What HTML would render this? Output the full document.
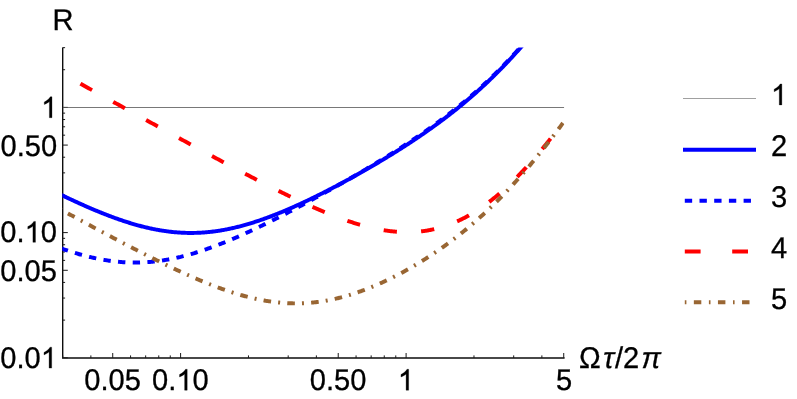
<!DOCTYPE html>
<html><head><meta charset="utf-8"><title>plot</title>
<style>
html,body{margin:0;padding:0;background:#fff;}
body{width:797px;height:399px;overflow:hidden;position:relative;}
svg{position:absolute;left:0;top:0;display:block;will-change:transform;}
text{font-family:"Liberation Sans",sans-serif;fill:#000;stroke:#000;stroke-width:0.3px;text-rendering:geometricPrecision;}
.it{font-style:italic;}
</style></head><body>
<svg width="797" height="399" viewBox="0 0 797 399">
<rect width="797" height="399" fill="#fff"/>
<defs><clipPath id="cp"><rect x="62.3" y="47.4" width="502.0" height="310.20000000000005"/></clipPath></defs>
<path d="M62.7 47.4 V358 H564.6" fill="none" stroke="#0d0d0d" stroke-width="1.4" stroke-linejoin="miter"/>
<path d="M112.72 358 V353 M180.60 358 V353 M338.22 358 V353 M406.10 358 V353 M563.72 358 V353 M62.69 358 V355.4 M90.86 358 V355.4 M130.57 358 V355.4 M145.67 358 V355.4 M158.75 358 V355.4 M170.28 358 V355.4 M248.48 358 V355.4 M288.19 358 V355.4 M316.36 358 V355.4 M356.07 358 V355.4 M371.17 358 V355.4 M384.25 358 V355.4 M395.78 358 V355.4 M473.98 358 V355.4 M513.69 358 V355.4 M541.86 358 V355.4 M62.7 357.80 H67.8 M62.7 270.29 H67.8 M62.7 232.60 H67.8 M62.7 145.09 H67.8 M62.7 107.40 H67.8 M62.7 320.11 H65.1 M62.7 298.06 H65.1 M62.7 282.42 H65.1 M62.7 260.38 H65.1 M62.7 251.99 H65.1 M62.7 244.73 H65.1 M62.7 238.33 H65.1 M62.7 194.91 H65.1 M62.7 172.86 H65.1 M62.7 157.22 H65.1 M62.7 135.18 H65.1 M62.7 126.79 H65.1 M62.7 119.53 H65.1 M62.7 113.13 H65.1 M62.7 69.71 H65.1 M62.7 47.66 H65.1" fill="none" stroke="#1a1a1a" stroke-width="1"/>
<g clip-path="url(#cp)" fill="none">
<path d="M62.9 107.5 H564.1999999999999" stroke="#555" stroke-width="0.8"/>
<path d="M40.94 184.83 L41.81 185.27 L42.68 185.71 L43.56 186.15 L44.43 186.59 L45.30 187.03 L46.18 187.47 L47.05 187.90 L47.92 188.34 L48.79 188.77 L49.67 189.21 L50.54 189.64 L51.41 190.07 L52.29 190.50 L53.16 190.94 L54.03 191.36 L54.90 191.79 L55.78 192.22 L56.65 192.65 L57.52 193.07 L58.40 193.50 L59.27 193.92 L60.14 194.34 L61.01 194.77 L61.89 195.19 L62.76 195.61 L63.63 196.02 L64.51 196.44 L65.38 196.86 L66.25 197.27 L67.13 197.69 L68.00 198.10 L68.87 198.51 L69.74 198.92 L70.62 199.33 L71.49 199.74 L72.36 200.14 L73.24 200.55 L74.11 200.95 L74.98 201.35 L75.85 201.76 L76.73 202.16 L77.60 202.55 L78.47 202.95 L79.35 203.35 L80.22 203.74 L81.09 204.13 L81.96 204.52 L82.84 204.91 L83.71 205.30 L84.58 205.69 L85.46 206.07 L86.33 206.46 L87.20 206.84 L88.08 207.22 L88.95 207.60 L89.82 207.97 L90.69 208.35 L91.57 208.72 L92.44 209.09 L93.31 209.46 L94.19 209.83 L95.06 210.20 L95.93 210.56 L96.80 210.92 L97.68 211.28 L98.55 211.64 L99.42 212.00 L100.30 212.35 L101.17 212.70 L102.04 213.05 L102.92 213.40 L103.79 213.75 L104.66 214.09 L105.53 214.43 L106.41 214.77 L107.28 215.11 L108.15 215.45 L109.03 215.78 L109.90 216.11 L110.77 216.44 L111.64 216.76 L112.52 217.09 L113.39 217.41 L114.26 217.73 L115.14 218.04 L116.01 218.36 L116.88 218.67 L117.75 218.98 L118.63 219.28 L119.50 219.59 L120.37 219.89 L121.25 220.19 L122.12 220.48 L122.99 220.77 L123.87 221.06 L124.74 221.35 L125.61 221.64 L126.48 221.92 L127.36 222.20 L128.23 222.47 L129.10 222.74 L129.98 223.01 L130.85 223.28 L131.72 223.54 L132.59 223.80 L133.47 224.06 L134.34 224.32 L135.21 224.57 L136.09 224.82 L136.96 225.06 L137.83 225.30 L138.70 225.54 L139.58 225.78 L140.45 226.01 L141.32 226.24 L142.20 226.46 L143.07 226.68 L143.94 226.90 L144.82 227.12 L145.69 227.33 L146.56 227.54 L147.43 227.74 L148.31 227.94 L149.18 228.14 L150.05 228.33 L150.93 228.52 L151.80 228.71 L152.67 228.89 L153.54 229.07 L154.42 229.24 L155.29 229.41 L156.16 229.58 L157.04 229.75 L157.91 229.91 L158.78 230.06 L159.65 230.21 L160.53 230.36 L161.40 230.50 L162.27 230.65 L163.15 230.78 L164.02 230.91 L164.89 231.04 L165.77 231.17 L166.64 231.29 L167.51 231.40 L168.38 231.51 L169.26 231.62 L170.13 231.72 L171.00 231.82 L171.88 231.92 L172.75 232.01 L173.62 232.10 L174.49 232.18 L175.37 232.26 L176.24 232.33 L177.11 232.40 L177.99 232.47 L178.86 232.53 L179.73 232.59 L180.61 232.64 L181.48 232.69 L182.35 232.73 L183.22 232.77 L184.10 232.81 L184.97 232.84 L185.84 232.87 L186.72 232.89 L187.59 232.91 L188.46 232.93 L189.33 232.93 L190.21 232.94 L191.08 232.94 L191.95 232.94 L192.83 232.93 L193.70 232.92 L194.57 232.90 L195.44 232.88 L196.32 232.86 L197.19 232.83 L198.06 232.79 L198.94 232.76 L199.81 232.71 L200.68 232.67 L201.56 232.62 L202.43 232.56 L203.30 232.50 L204.17 232.44 L205.05 232.37 L205.92 232.30 L206.79 232.22 L207.67 232.14 L208.54 232.06 L209.41 231.97 L210.28 231.88 L211.16 231.78 L212.03 231.68 L212.90 231.57 L213.78 231.46 L214.65 231.35 L215.52 231.23 L216.39 231.11 L217.27 230.98 L218.14 230.85 L219.01 230.71 L219.89 230.58 L220.76 230.43 L221.63 230.29 L222.51 230.14 L223.38 229.98 L224.25 229.82 L225.12 229.66 L226.00 229.49 L226.87 229.32 L227.74 229.15 L228.62 228.97 L229.49 228.79 L230.36 228.61 L231.23 228.42 L232.11 228.22 L232.98 228.03 L233.85 227.83 L234.73 227.62 L235.60 227.42 L236.47 227.20 L237.35 226.99 L238.22 226.77 L239.09 226.55 L239.96 226.33 L240.84 226.10 L241.71 225.86 L242.58 225.63 L243.46 225.39 L244.33 225.15 L245.20 224.90 L246.07 224.65 L246.95 224.40 L247.82 224.15 L248.69 223.89 L249.57 223.63 L250.44 223.36 L251.31 223.09 L252.18 222.82 L253.06 222.55 L253.93 222.27 L254.80 221.99 L255.68 221.71 L256.55 221.42 L257.42 221.13 L258.30 220.84 L259.17 220.55 L260.04 220.25 L260.91 219.95 L261.79 219.64 L262.66 219.34 L263.53 219.03 L264.41 218.72 L265.28 218.40 L266.15 218.09 L267.02 217.77 L267.90 217.45 L268.77 217.12 L269.64 216.79 L270.52 216.46 L271.39 216.13 L272.26 215.80 L273.13 215.46 L274.01 215.12 L274.88 214.78 L275.75 214.43 L276.63 214.09 L277.50 213.74 L278.37 213.39 L279.25 213.03 L280.12 212.68 L280.99 212.32 L281.86 211.96 L282.74 211.60 L283.61 211.23 L284.48 210.87 L285.36 210.50 L286.23 210.13 L287.10 209.75 L287.97 209.38 L288.85 209.00 L289.72 208.62 L290.59 208.24 L291.47 207.86 L292.34 207.47 L293.21 207.09 L294.08 206.70 L294.96 206.31 L295.83 205.92 L296.70 205.52 L297.58 205.13 L298.45 204.73 L299.32 204.33 L300.20 203.93 L301.07 203.53 L301.94 203.12 L302.81 202.72 L303.69 202.31 L304.56 201.90 L305.43 201.49 L306.31 201.08 L307.18 200.66 L308.05 200.25 L308.92 199.83 L309.80 199.41 L310.67 198.99 L311.54 198.57 L312.42 198.14 L313.29 197.72 L314.16 197.29 L315.04 196.86 L315.91 196.43 L316.78 196.00 L317.65 195.57 L318.53 195.14 L319.40 194.70 L320.27 194.26 L321.15 193.83 L322.02 193.39 L322.89 192.95 L323.76 192.50 L324.64 192.06 L325.51 191.62 L326.38 191.17 L327.26 190.72 L328.13 190.27 L329.00 189.82 L329.87 189.37 L330.75 188.92 L331.62 188.47 L332.49 188.01 L333.37 187.56 L334.24 187.10 L335.11 186.64 L335.99 186.18 L336.86 185.72 L337.73 185.26 L338.60 184.79 L339.48 184.33 L340.35 183.86 L341.22 183.39 L342.10 182.93 L342.97 182.46 L343.84 181.99 L344.71 181.51 L345.59 181.04 L346.46 180.57 L347.33 180.09 L348.21 179.61 L349.08 179.14 L349.95 178.66 L350.82 178.18 L351.70 177.70 L352.57 177.21 L353.44 176.73 L354.32 176.25 L355.19 175.76 L356.06 175.27 L356.94 174.78 L357.81 174.29 L358.68 173.80 L359.55 173.31 L360.43 172.82 L361.30 172.33 L362.17 171.83 L363.05 171.33 L363.92 170.84 L364.79 170.34 L365.66 169.84 L366.54 169.34 L367.41 168.83 L368.28 168.33 L369.16 167.83 L370.03 167.32 L370.90 166.81 L371.77 166.30 L372.65 165.79 L373.52 165.28 L374.39 164.77 L375.27 164.26 L376.14 163.74 L377.01 163.23 L377.89 162.71 L378.76 162.19 L379.63 161.67 L380.50 161.15 L381.38 160.63 L382.25 160.10 L383.12 159.58 L384.00 159.05 L384.87 158.53 L385.74 158.00 L386.61 157.47 L387.49 156.93 L388.36 156.40 L389.23 155.87 L390.11 155.33 L390.98 154.79 L391.85 154.26 L392.73 153.72 L393.60 153.17 L394.47 152.63 L395.34 152.09 L396.22 151.54 L397.09 150.99 L397.96 150.44 L398.84 149.89 L399.71 149.34 L400.58 148.79 L401.45 148.23 L402.33 147.67 L403.20 147.12 L404.07 146.56 L404.95 145.99 L405.82 145.43 L406.69 144.86 L407.56 144.30 L408.44 143.73 L409.31 143.16 L410.18 142.59 L411.06 142.01 L411.93 141.44 L412.80 140.86 L413.68 140.28 L414.55 139.70 L415.42 139.11 L416.29 138.53 L417.17 137.94 L418.04 137.35 L418.91 136.76 L419.79 136.17 L420.66 135.58 L421.53 134.98 L422.40 134.38 L423.28 133.78 L424.15 133.17 L425.02 132.57 L425.90 131.96 L426.77 131.35 L427.64 130.74 L428.51 130.13 L429.39 129.51 L430.26 128.89 L431.13 128.27 L432.01 127.65 L432.88 127.02 L433.75 126.39 L434.63 125.76 L435.50 125.13 L436.37 124.50 L437.24 123.86 L438.12 123.22 L438.99 122.58 L439.86 121.93 L440.74 121.28 L441.61 120.63 L442.48 119.98 L443.35 119.32 L444.23 118.66 L445.10 118.00 L445.97 117.34 L446.85 116.67 L447.72 116.00 L448.59 115.33 L449.46 114.66 L450.34 113.98 L451.21 113.30 L452.08 112.61 L452.96 111.93 L453.83 111.24 L454.70 110.54 L455.58 109.85 L456.45 109.15 L457.32 108.45 L458.19 107.74 L459.07 107.03 L459.94 106.32 L460.81 105.61 L461.69 104.89 L462.56 104.17 L463.43 103.44 L464.30 102.72 L465.18 101.98 L466.05 101.25 L466.92 100.51 L467.80 99.77 L468.67 99.02 L469.54 98.28 L470.42 97.52 L471.29 96.77 L472.16 96.01 L473.03 95.25 L473.91 94.48 L474.78 93.71 L475.65 92.94 L476.53 92.16 L477.40 91.38 L478.27 90.59 L479.14 89.80 L480.02 89.01 L480.89 88.22 L481.76 87.42 L482.64 86.61 L483.51 85.80 L484.38 84.99 L485.25 84.18 L486.13 83.36 L487.00 82.53 L487.87 81.71 L488.75 80.87 L489.62 80.04 L490.49 79.20 L491.37 78.35 L492.24 77.51 L493.11 76.65 L493.98 75.80 L494.86 74.94 L495.73 74.07 L496.60 73.20 L497.48 72.33 L498.35 71.46 L499.22 70.57 L500.09 69.69 L500.97 68.80 L501.84 67.91 L502.71 67.01 L503.59 66.10 L504.46 65.20 L505.33 64.29 L506.20 63.37 L507.08 62.45 L507.95 61.53 L508.82 60.60 L509.70 59.67 L510.57 58.73 L511.44 57.79 L512.32 56.84 L513.19 55.89 L514.06 54.94 L514.93 53.98 L515.81 53.02 L516.68 52.05 L517.55 51.08 L518.43 50.10 L519.30 49.12 L520.17 48.14 L521.04 47.15 L521.92 46.16 L522.79 45.16 L523.66 44.16 L524.54 43.15 L525.41 42.14 L526.28 41.13 L527.16 40.11 L528.03 39.08 L528.90 38.06 L529.77 37.02 L530.65 35.99 L531.52 34.95 L532.39 33.90 L533.27 32.85 L534.14 31.80 L535.01 30.74 L535.88 29.68 L536.76 28.62 L537.63 27.55 L538.50 26.47 L539.38 25.40 L540.25 24.31 L541.12 23.23 L541.99 22.14 L542.87 21.04 L543.74 19.94 L544.61 18.84 L545.49 17.74 L546.36 16.62 L547.23 15.51 L548.11 14.39 L548.98 13.27 L549.85 12.14 L550.72 11.01 L551.60 9.88 L552.47 8.74 L553.34 7.60 L554.22 6.46 L555.09 5.31 L555.96 4.15 L556.83 3.00 L557.71 1.84 L558.58 0.68 L559.45 -0.49 L560.33 -1.66 L561.20 -2.84 L562.07 -4.02 L562.94 -5.20 L563.82 -6.38" stroke="#0000ff" stroke-width="3.95"/>
<path d="M40.94 240.61 L41.81 240.97 L42.68 241.33 L43.56 241.68 L44.43 242.04 L45.30 242.39 L46.18 242.74 L47.05 243.09 L47.92 243.43 L48.79 243.78 L49.67 244.12 L50.54 244.46 L51.41 244.79 L52.29 245.13 L53.16 245.46 L54.03 245.79 L54.90 246.12 L55.78 246.44 L56.65 246.77 L57.52 247.09 L58.40 247.41 L59.27 247.72 L60.14 248.03 L61.01 248.35 L61.89 248.65 L62.76 248.96 L63.63 249.26 L64.51 249.56 L65.38 249.86 L66.25 250.15 L67.13 250.45 L68.00 250.74 L68.87 251.02 L69.74 251.31 L70.62 251.59 L71.49 251.86 L72.36 252.14 L73.24 252.41 L74.11 252.68 L74.98 252.95 L75.85 253.21 L76.73 253.47 L77.60 253.73 L78.47 253.98 L79.35 254.23 L80.22 254.48 L81.09 254.72 L81.96 254.97 L82.84 255.20 L83.71 255.44 L84.58 255.67 L85.46 255.90 L86.33 256.12 L87.20 256.34 L88.08 256.56 L88.95 256.77 L89.82 256.98 L90.69 257.19 L91.57 257.39 L92.44 257.59 L93.31 257.79 L94.19 257.98 L95.06 258.17 L95.93 258.36 L96.80 258.54 L97.68 258.72 L98.55 258.89 L99.42 259.06 L100.30 259.23 L101.17 259.39 L102.04 259.55 L102.92 259.71 L103.79 259.86 L104.66 260.01 L105.53 260.15 L106.41 260.29 L107.28 260.42 L108.15 260.56 L109.03 260.68 L109.90 260.81 L110.77 260.93 L111.64 261.04 L112.52 261.15 L113.39 261.26 L114.26 261.36 L115.14 261.46 L116.01 261.56 L116.88 261.65 L117.75 261.73 L118.63 261.82 L119.50 261.89 L120.37 261.97 L121.25 262.04 L122.12 262.10 L122.99 262.16 L123.87 262.22 L124.74 262.27 L125.61 262.32 L126.48 262.36 L127.36 262.40 L128.23 262.44 L129.10 262.47 L129.98 262.50 L130.85 262.52 L131.72 262.54 L132.59 262.55 L133.47 262.56 L134.34 262.57 L135.21 262.57 L136.09 262.56 L136.96 262.56 L137.83 262.54 L138.70 262.53 L139.58 262.51 L140.45 262.48 L141.32 262.45 L142.20 262.42 L143.07 262.38 L143.94 262.34 L144.82 262.29 L145.69 262.24 L146.56 262.19 L147.43 262.13 L148.31 262.06 L149.18 261.99 L150.05 261.92 L150.93 261.85 L151.80 261.76 L152.67 261.68 L153.54 261.59 L154.42 261.50 L155.29 261.40 L156.16 261.30 L157.04 261.19 L157.91 261.08 L158.78 260.97 L159.65 260.85 L160.53 260.73 L161.40 260.60 L162.27 260.47 L163.15 260.34 L164.02 260.20 L164.89 260.06 L165.77 259.91 L166.64 259.76 L167.51 259.61 L168.38 259.45 L169.26 259.29 L170.13 259.12 L171.00 258.95 L171.88 258.78 L172.75 258.60 L173.62 258.42 L174.49 258.24 L175.37 258.05 L176.24 257.86 L177.11 257.66 L177.99 257.46 L178.86 257.26 L179.73 257.05 L180.61 256.85 L181.48 256.63 L182.35 256.41 L183.22 256.19 L184.10 255.97 L184.97 255.74 L185.84 255.51 L186.72 255.28 L187.59 255.04 L188.46 254.80 L189.33 254.56 L190.21 254.31 L191.08 254.06 L191.95 253.81 L192.83 253.55 L193.70 253.29 L194.57 253.03 L195.44 252.76 L196.32 252.49 L197.19 252.22 L198.06 251.95 L198.94 251.67 L199.81 251.39 L200.68 251.10 L201.56 250.82 L202.43 250.53 L203.30 250.24 L204.17 249.94 L205.05 249.64 L205.92 249.34 L206.79 249.04 L207.67 248.73 L208.54 248.42 L209.41 248.11 L210.28 247.80 L211.16 247.48 L212.03 247.17 L212.90 246.84 L213.78 246.52 L214.65 246.19 L215.52 245.87 L216.39 245.53 L217.27 245.20 L218.14 244.87 L219.01 244.53 L219.89 244.19 L220.76 243.85 L221.63 243.50 L222.51 243.15 L223.38 242.81 L224.25 242.45 L225.12 242.10 L226.00 241.75 L226.87 241.39 L227.74 241.03 L228.62 240.67 L229.49 240.30 L230.36 239.94 L231.23 239.57 L232.11 239.20 L232.98 238.83 L233.85 238.46 L234.73 238.08 L235.60 237.71 L236.47 237.33 L237.35 236.95 L238.22 236.57 L239.09 236.18 L239.96 235.80 L240.84 235.41 L241.71 235.02 L242.58 234.63 L243.46 234.24 L244.33 233.85 L245.20 233.45 L246.07 233.05 L246.95 232.66 L247.82 232.26 L248.69 231.85 L249.57 231.45 L250.44 231.05 L251.31 230.64 L252.18 230.23 L253.06 229.83 L253.93 229.42 L254.80 229.01 L255.68 228.59 L256.55 228.18 L257.42 227.76 L258.30 227.35 L259.17 226.93 L260.04 226.51 L260.91 226.09 L261.79 225.67 L262.66 225.25 L263.53 224.82 L264.41 224.40 L265.28 223.97 L266.15 223.54 L267.02 223.11 L267.90 222.68 L268.77 222.25 L269.64 221.82 L270.52 221.39 L271.39 220.96 L272.26 220.52 L273.13 220.08 L274.01 219.65 L274.88 219.21 L275.75 218.77 L276.63 218.33 L277.50 217.89 L278.37 217.45 L279.25 217.00 L280.12 216.56 L280.99 216.11 L281.86 215.67 L282.74 215.22 L283.61 214.77 L284.48 214.32 L285.36 213.87 L286.23 213.42 L287.10 212.97 L287.97 212.52 L288.85 212.07 L289.72 211.61 L290.59 211.16 L291.47 210.70 L292.34 210.25 L293.21 209.79 L294.08 209.33 L294.96 208.87 L295.83 208.41 L296.70 207.95 L297.58 207.49 L298.45 207.03 L299.32 206.57 L300.20 206.10 L301.07 205.64 L301.94 205.18 L302.81 204.71 L303.69 204.24 L304.56 203.78 L305.43 203.31 L306.31 202.84 L307.18 202.37 L308.05 201.90 L308.92 201.43 L309.80 200.96 L310.67 200.49 L311.54 200.01 L312.42 199.54 L313.29 199.07 L314.16 198.59 L315.04 198.12 L315.91 197.64 L316.78 197.16 L317.65 196.69 L318.53 196.21 L319.40 195.73 L320.27 195.25 L321.15 194.77 L322.02 194.29 L322.89 193.81 L323.76 193.32 L324.64 192.84 L325.51 192.36 L326.38 191.87 L327.26 191.39 L328.13 190.90 L329.00 190.42 L329.87 189.93 L330.75 189.44 L331.62 188.95 L332.49 188.46 L333.37 187.97 L334.24 187.48 L335.11 186.99 L335.99 186.50 L336.86 186.01 L337.73 185.52 L338.60 185.02 L339.48 184.53 L340.35 184.03 L341.22 183.54 L342.10 183.04 L342.97 182.54 L343.84 182.05 L344.71 181.55 L345.59 181.05 L346.46 180.55 L347.33 180.05 L348.21 179.55 L349.08 179.04 L349.95 178.54 L350.82 178.04 L351.70 177.53 L352.57 177.03 L353.44 176.52 L354.32 176.02 L355.19 175.51 L356.06 175.00 L356.94 174.49 L357.81 173.98 L358.68 173.47 L359.55 172.96 L360.43 172.45 L361.30 171.93 L362.17 171.42 L363.05 170.91 L363.92 170.39 L364.79 169.87 L365.66 169.36 L366.54 168.84 L367.41 168.32 L368.28 167.80 L369.16 167.28 L370.03 166.76 L370.90 166.24 L371.77 165.71 L372.65 165.19 L373.52 164.66 L374.39 164.14 L375.27 163.61 L376.14 163.08 L377.01 162.55 L377.89 162.02 L378.76 161.49 L379.63 160.96 L380.50 160.43 L381.38 159.89 L382.25 159.36 L383.12 158.82 L384.00 158.29 L384.87 157.75 L385.74 157.21 L386.61 156.67 L387.49 156.13 L388.36 155.58 L389.23 155.04 L390.11 154.49 L390.98 153.95 L391.85 153.40 L392.73 152.85 L393.60 152.30 L394.47 151.75 L395.34 151.20 L396.22 150.64 L397.09 150.09 L397.96 149.53 L398.84 148.97 L399.71 148.41 L400.58 147.85 L401.45 147.29 L402.33 146.73 L403.20 146.16 L404.07 145.59 L404.95 145.03 L405.82 144.46 L406.69 143.89 L407.56 143.31 L408.44 142.74 L409.31 142.16 L410.18 141.59 L411.06 141.01 L411.93 140.43 L412.80 139.85 L413.68 139.26 L414.55 138.68 L415.42 138.09 L416.29 137.50 L417.17 136.91 L418.04 136.32 L418.91 135.72 L419.79 135.13 L420.66 134.53 L421.53 133.93 L422.40 133.33 L423.28 132.72 L424.15 132.12 L425.02 131.51 L425.90 130.90 L426.77 130.29 L427.64 129.67 L428.51 129.06 L429.39 128.44 L430.26 127.82 L431.13 127.20 L432.01 126.57 L432.88 125.95 L433.75 125.32 L434.63 124.69 L435.50 124.05 L436.37 123.42 L437.24 122.78 L438.12 122.14 L438.99 121.50 L439.86 120.85 L440.74 120.20 L441.61 119.55 L442.48 118.90 L443.35 118.24 L444.23 117.59 L445.10 116.93 L445.97 116.26 L446.85 115.60 L447.72 114.93 L448.59 114.26 L449.46 113.58 L450.34 112.91 L451.21 112.23 L452.08 111.54 L452.96 110.86 L453.83 110.17 L454.70 109.48 L455.58 108.79 L456.45 108.09 L457.32 107.39 L458.19 106.69 L459.07 105.98 L459.94 105.27 L460.81 104.56 L461.69 103.84 L462.56 103.12 L463.43 102.40 L464.30 101.68 L465.18 100.95 L466.05 100.22 L466.92 99.48 L467.80 98.74 L468.67 98.00 L469.54 97.26 L470.42 96.51 L471.29 95.76 L472.16 95.00 L473.03 94.24 L473.91 93.48 L474.78 92.71 L475.65 91.94 L476.53 91.17 L477.40 90.39 L478.27 89.61 L479.14 88.83 L480.02 88.04 L480.89 87.25 L481.76 86.45 L482.64 85.65 L483.51 84.85 L484.38 84.04 L485.25 83.23 L486.13 82.41 L487.00 81.60 L487.87 80.77 L488.75 79.95 L489.62 79.12 L490.49 78.28 L491.37 77.44 L492.24 76.60 L493.11 75.75 L493.98 74.90 L494.86 74.05 L495.73 73.19 L496.60 72.32 L497.48 71.46 L498.35 70.59 L499.22 69.71 L500.09 68.83 L500.97 67.95 L501.84 67.06 L502.71 66.17 L503.59 65.27 L504.46 64.37 L505.33 63.46 L506.20 62.55 L507.08 61.64 L507.95 60.72 L508.82 59.80 L509.70 58.87 L510.57 57.94 L511.44 57.01 L512.32 56.07 L513.19 55.12 L514.06 54.18 L514.93 53.22 L515.81 52.27 L516.68 51.31 L517.55 50.34 L518.43 49.37 L519.30 48.40 L520.17 47.42 L521.04 46.44 L521.92 45.45 L522.79 44.46 L523.66 43.46 L524.54 42.46 L525.41 41.46 L526.28 40.45 L527.16 39.44 L528.03 38.42 L528.90 37.40 L529.77 36.37 L530.65 35.34 L531.52 34.31 L532.39 33.27 L533.27 32.23 L534.14 31.18 L535.01 30.13 L535.88 29.08 L536.76 28.02 L537.63 26.95 L538.50 25.88 L539.38 24.81 L540.25 23.74 L541.12 22.66 L541.99 21.57 L542.87 20.48 L543.74 19.39 L544.61 18.30 L545.49 17.19 L546.36 16.09 L547.23 14.98 L548.11 13.87 L548.98 12.75 L549.85 11.63 L550.72 10.51 L551.60 9.38 L552.47 8.25 L553.34 7.11 L554.22 5.97 L555.09 4.83 L555.96 3.68 L556.83 2.53 L557.71 1.38 L558.58 0.22 L559.45 -0.94 L560.33 -2.11 L561.20 -3.27 L562.07 -4.45 L562.94 -5.62 L563.82 -6.80" stroke="#0000ff" stroke-width="3.95" stroke-dasharray="7.35 7.35" stroke-dashoffset="-6.74"/>
<path d="M40.94 61.79 L41.81 62.27 L42.68 62.76 L43.56 63.24 L44.43 63.73 L45.30 64.21 L46.18 64.70 L47.05 65.18 L47.92 65.66 L48.79 66.15 L49.67 66.63 L50.54 67.12 L51.41 67.60 L52.29 68.08 L53.16 68.57 L54.03 69.05 L54.90 69.54 L55.78 70.02 L56.65 70.51 L57.52 70.99 L58.40 71.47 L59.27 71.96 L60.14 72.44 L61.01 72.93 L61.89 73.41 L62.76 73.89 L63.63 74.38 L64.51 74.86 L65.38 75.35 L66.25 75.83 L67.13 76.31 L68.00 76.80 L68.87 77.28 L69.74 77.77 L70.62 78.25 L71.49 78.73 L72.36 79.22 L73.24 79.70 L74.11 80.18 L74.98 80.67 L75.85 81.15 L76.73 81.64 L77.60 82.12 L78.47 82.60 L79.35 83.09 L80.22 83.57 L81.09 84.06 L81.96 84.54 L82.84 85.02 L83.71 85.51 L84.58 85.99 L85.46 86.47 L86.33 86.96 L87.20 87.44 L88.08 87.92 L88.95 88.41 L89.82 88.89 L90.69 89.37 L91.57 89.86 L92.44 90.34 L93.31 90.83 L94.19 91.31 L95.06 91.79 L95.93 92.28 L96.80 92.76 L97.68 93.24 L98.55 93.73 L99.42 94.21 L100.30 94.69 L101.17 95.18 L102.04 95.66 L102.92 96.14 L103.79 96.63 L104.66 97.11 L105.53 97.59 L106.41 98.07 L107.28 98.56 L108.15 99.04 L109.03 99.52 L109.90 100.01 L110.77 100.49 L111.64 100.97 L112.52 101.46 L113.39 101.94 L114.26 102.42 L115.14 102.90 L116.01 103.39 L116.88 103.87 L117.75 104.35 L118.63 104.84 L119.50 105.32 L120.37 105.80 L121.25 106.28 L122.12 106.77 L122.99 107.25 L123.87 107.73 L124.74 108.21 L125.61 108.70 L126.48 109.18 L127.36 109.66 L128.23 110.14 L129.10 110.62 L129.98 111.11 L130.85 111.59 L131.72 112.07 L132.59 112.55 L133.47 113.03 L134.34 113.52 L135.21 114.00 L136.09 114.48 L136.96 114.96 L137.83 115.44 L138.70 115.93 L139.58 116.41 L140.45 116.89 L141.32 117.37 L142.20 117.85 L143.07 118.33 L143.94 118.81 L144.82 119.30 L145.69 119.78 L146.56 120.26 L147.43 120.74 L148.31 121.22 L149.18 121.70 L150.05 122.18 L150.93 122.66 L151.80 123.14 L152.67 123.62 L153.54 124.10 L154.42 124.58 L155.29 125.07 L156.16 125.55 L157.04 126.03 L157.91 126.51 L158.78 126.99 L159.65 127.47 L160.53 127.95 L161.40 128.43 L162.27 128.91 L163.15 129.39 L164.02 129.87 L164.89 130.35 L165.77 130.82 L166.64 131.30 L167.51 131.78 L168.38 132.26 L169.26 132.74 L170.13 133.22 L171.00 133.70 L171.88 134.18 L172.75 134.66 L173.62 135.14 L174.49 135.61 L175.37 136.09 L176.24 136.57 L177.11 137.05 L177.99 137.53 L178.86 138.00 L179.73 138.48 L180.61 138.96 L181.48 139.44 L182.35 139.91 L183.22 140.39 L184.10 140.87 L184.97 141.35 L185.84 141.82 L186.72 142.30 L187.59 142.78 L188.46 143.25 L189.33 143.73 L190.21 144.20 L191.08 144.68 L191.95 145.16 L192.83 145.63 L193.70 146.11 L194.57 146.58 L195.44 147.06 L196.32 147.53 L197.19 148.01 L198.06 148.48 L198.94 148.96 L199.81 149.43 L200.68 149.91 L201.56 150.38 L202.43 150.85 L203.30 151.33 L204.17 151.80 L205.05 152.27 L205.92 152.75 L206.79 153.22 L207.67 153.69 L208.54 154.16 L209.41 154.64 L210.28 155.11 L211.16 155.58 L212.03 156.05 L212.90 156.52 L213.78 156.99 L214.65 157.46 L215.52 157.93 L216.39 158.40 L217.27 158.87 L218.14 159.34 L219.01 159.81 L219.89 160.28 L220.76 160.75 L221.63 161.22 L222.51 161.69 L223.38 162.16 L224.25 162.62 L225.12 163.09 L226.00 163.56 L226.87 164.02 L227.74 164.49 L228.62 164.96 L229.49 165.42 L230.36 165.89 L231.23 166.35 L232.11 166.82 L232.98 167.28 L233.85 167.75 L234.73 168.21 L235.60 168.67 L236.47 169.14 L237.35 169.60 L238.22 170.06 L239.09 170.52 L239.96 170.98 L240.84 171.44 L241.71 171.91 L242.58 172.37 L243.46 172.82 L244.33 173.28 L245.20 173.74 L246.07 174.20 L246.95 174.66 L247.82 175.12 L248.69 175.57 L249.57 176.03 L250.44 176.49 L251.31 176.94 L252.18 177.40 L253.06 177.85 L253.93 178.30 L254.80 178.76 L255.68 179.21 L256.55 179.66 L257.42 180.11 L258.30 180.56 L259.17 181.02 L260.04 181.46 L260.91 181.91 L261.79 182.36 L262.66 182.81 L263.53 183.26 L264.41 183.70 L265.28 184.15 L266.15 184.60 L267.02 185.04 L267.90 185.48 L268.77 185.93 L269.64 186.37 L270.52 186.81 L271.39 187.25 L272.26 187.69 L273.13 188.13 L274.01 188.57 L274.88 189.01 L275.75 189.45 L276.63 189.88 L277.50 190.32 L278.37 190.75 L279.25 191.19 L280.12 191.62 L280.99 192.05 L281.86 192.48 L282.74 192.91 L283.61 193.34 L284.48 193.77 L285.36 194.20 L286.23 194.62 L287.10 195.05 L287.97 195.47 L288.85 195.90 L289.72 196.32 L290.59 196.74 L291.47 197.16 L292.34 197.58 L293.21 197.99 L294.08 198.41 L294.96 198.83 L295.83 199.24 L296.70 199.65 L297.58 200.07 L298.45 200.48 L299.32 200.89 L300.20 201.29 L301.07 201.70 L301.94 202.11 L302.81 202.51 L303.69 202.91 L304.56 203.31 L305.43 203.71 L306.31 204.11 L307.18 204.51 L308.05 204.90 L308.92 205.30 L309.80 205.69 L310.67 206.08 L311.54 206.47 L312.42 206.86 L313.29 207.24 L314.16 207.63 L315.04 208.01 L315.91 208.39 L316.78 208.77 L317.65 209.15 L318.53 209.53 L319.40 209.90 L320.27 210.27 L321.15 210.64 L322.02 211.01 L322.89 211.38 L323.76 211.74 L324.64 212.11 L325.51 212.47 L326.38 212.82 L327.26 213.18 L328.13 213.54 L329.00 213.89 L329.87 214.24 L330.75 214.59 L331.62 214.93 L332.49 215.28 L333.37 215.62 L334.24 215.96 L335.11 216.29 L335.99 216.63 L336.86 216.96 L337.73 217.29 L338.60 217.61 L339.48 217.94 L340.35 218.26 L341.22 218.58 L342.10 218.90 L342.97 219.21 L343.84 219.52 L344.71 219.83 L345.59 220.14 L346.46 220.44 L347.33 220.74 L348.21 221.04 L349.08 221.33 L349.95 221.62 L350.82 221.91 L351.70 222.20 L352.57 222.48 L353.44 222.76 L354.32 223.03 L355.19 223.31 L356.06 223.58 L356.94 223.84 L357.81 224.10 L358.68 224.36 L359.55 224.62 L360.43 224.87 L361.30 225.12 L362.17 225.37 L363.05 225.61 L363.92 225.85 L364.79 226.08 L365.66 226.31 L366.54 226.54 L367.41 226.76 L368.28 226.98 L369.16 227.20 L370.03 227.41 L370.90 227.62 L371.77 227.82 L372.65 228.02 L373.52 228.22 L374.39 228.41 L375.27 228.60 L376.14 228.78 L377.01 228.96 L377.89 229.13 L378.76 229.30 L379.63 229.47 L380.50 229.63 L381.38 229.79 L382.25 229.94 L383.12 230.09 L384.00 230.23 L384.87 230.37 L385.74 230.50 L386.61 230.63 L387.49 230.75 L388.36 230.87 L389.23 230.99 L390.11 231.10 L390.98 231.20 L391.85 231.30 L392.73 231.39 L393.60 231.48 L394.47 231.56 L395.34 231.64 L396.22 231.72 L397.09 231.78 L397.96 231.84 L398.84 231.90 L399.71 231.95 L400.58 232.00 L401.45 232.04 L402.33 232.07 L403.20 232.10 L404.07 232.12 L404.95 232.14 L405.82 232.15 L406.69 232.16 L407.56 232.16 L408.44 232.15 L409.31 232.14 L410.18 232.12 L411.06 232.10 L411.93 232.07 L412.80 232.03 L413.68 231.99 L414.55 231.94 L415.42 231.89 L416.29 231.82 L417.17 231.76 L418.04 231.68 L418.91 231.60 L419.79 231.52 L420.66 231.42 L421.53 231.32 L422.40 231.22 L423.28 231.10 L424.15 230.98 L425.02 230.86 L425.90 230.73 L426.77 230.59 L427.64 230.44 L428.51 230.29 L429.39 230.13 L430.26 229.96 L431.13 229.79 L432.01 229.61 L432.88 229.42 L433.75 229.23 L434.63 229.02 L435.50 228.82 L436.37 228.60 L437.24 228.38 L438.12 228.15 L438.99 227.91 L439.86 227.67 L440.74 227.42 L441.61 227.16 L442.48 226.90 L443.35 226.62 L444.23 226.34 L445.10 226.06 L445.97 225.76 L446.85 225.46 L447.72 225.15 L448.59 224.84 L449.46 224.51 L450.34 224.18 L451.21 223.85 L452.08 223.50 L452.96 223.15 L453.83 222.79 L454.70 222.42 L455.58 222.04 L456.45 221.66 L457.32 221.27 L458.19 220.87 L459.07 220.47 L459.94 220.06 L460.81 219.64 L461.69 219.21 L462.56 218.77 L463.43 218.33 L464.30 217.88 L465.18 217.42 L466.05 216.96 L466.92 216.49 L467.80 216.01 L468.67 215.52 L469.54 215.02 L470.42 214.52 L471.29 214.01 L472.16 213.49 L473.03 212.97 L473.91 212.44 L474.78 211.90 L475.65 211.35 L476.53 210.79 L477.40 210.23 L478.27 209.66 L479.14 209.08 L480.02 208.50 L480.89 207.91 L481.76 207.31 L482.64 206.70 L483.51 206.08 L484.38 205.46 L485.25 204.83 L486.13 204.19 L487.00 203.55 L487.87 202.90 L488.75 202.24 L489.62 201.57 L490.49 200.90 L491.37 200.22 L492.24 199.53 L493.11 198.83 L493.98 198.13 L494.86 197.42 L495.73 196.71 L496.60 195.98 L497.48 195.25 L498.35 194.51 L499.22 193.77 L500.09 193.01 L500.97 192.25 L501.84 191.49 L502.71 190.71 L503.59 189.93 L504.46 189.15 L505.33 188.35 L506.20 187.55 L507.08 186.74 L507.95 185.93 L508.82 185.11 L509.70 184.28 L510.57 183.44 L511.44 182.60 L512.32 181.75 L513.19 180.90 L514.06 180.04 L514.93 179.17 L515.81 178.29 L516.68 177.41 L517.55 176.52 L518.43 175.63 L519.30 174.73 L520.17 173.82 L521.04 172.91 L521.92 171.99 L522.79 171.06 L523.66 170.13 L524.54 169.20 L525.41 168.25 L526.28 167.30 L527.16 166.35 L528.03 165.38 L528.90 164.42 L529.77 163.44 L530.65 162.46 L531.52 161.48 L532.39 160.49 L533.27 159.49 L534.14 158.49 L535.01 157.48 L535.88 156.47 L536.76 155.45 L537.63 154.42 L538.50 153.39 L539.38 152.36 L540.25 151.32 L541.12 150.27 L541.99 149.22 L542.87 148.16 L543.74 147.10 L544.61 146.03 L545.49 144.96 L546.36 143.88 L547.23 142.80 L548.11 141.71 L548.98 140.62 L549.85 139.53 L550.72 138.42 L551.60 137.32 L552.47 136.21 L553.34 135.09 L554.22 133.97 L555.09 132.85 L555.96 131.72 L556.83 130.58 L557.71 129.44 L558.58 128.30 L559.45 127.15 L560.33 126.00 L561.20 124.85 L562.07 123.69 L562.94 122.52 L563.82 121.35" stroke="#ff0000" stroke-width="3.95" stroke-dasharray="13.3 24.25" stroke-dashoffset="-7.57"/>
<path d="M40.94 198.66 L41.81 199.14 L42.68 199.62 L43.56 200.10 L44.43 200.58 L45.30 201.06 L46.18 201.54 L47.05 202.02 L47.92 202.50 L48.79 202.97 L49.67 203.45 L50.54 203.93 L51.41 204.41 L52.29 204.89 L53.16 205.37 L54.03 205.84 L54.90 206.32 L55.78 206.80 L56.65 207.28 L57.52 207.76 L58.40 208.23 L59.27 208.71 L60.14 209.19 L61.01 209.66 L61.89 210.14 L62.76 210.62 L63.63 211.09 L64.51 211.57 L65.38 212.05 L66.25 212.52 L67.13 213.00 L68.00 213.48 L68.87 213.95 L69.74 214.43 L70.62 214.90 L71.49 215.38 L72.36 215.85 L73.24 216.33 L74.11 216.80 L74.98 217.28 L75.85 217.75 L76.73 218.22 L77.60 218.70 L78.47 219.17 L79.35 219.65 L80.22 220.12 L81.09 220.59 L81.96 221.07 L82.84 221.54 L83.71 222.01 L84.58 222.48 L85.46 222.96 L86.33 223.43 L87.20 223.90 L88.08 224.37 L88.95 224.84 L89.82 225.31 L90.69 225.78 L91.57 226.25 L92.44 226.72 L93.31 227.19 L94.19 227.66 L95.06 228.13 L95.93 228.60 L96.80 229.07 L97.68 229.54 L98.55 230.01 L99.42 230.48 L100.30 230.95 L101.17 231.41 L102.04 231.88 L102.92 232.35 L103.79 232.81 L104.66 233.28 L105.53 233.75 L106.41 234.21 L107.28 234.68 L108.15 235.14 L109.03 235.61 L109.90 236.07 L110.77 236.53 L111.64 237.00 L112.52 237.46 L113.39 237.92 L114.26 238.39 L115.14 238.85 L116.01 239.31 L116.88 239.77 L117.75 240.23 L118.63 240.69 L119.50 241.15 L120.37 241.61 L121.25 242.07 L122.12 242.53 L122.99 242.99 L123.87 243.44 L124.74 243.90 L125.61 244.36 L126.48 244.82 L127.36 245.27 L128.23 245.73 L129.10 246.18 L129.98 246.64 L130.85 247.09 L131.72 247.54 L132.59 247.99 L133.47 248.45 L134.34 248.90 L135.21 249.35 L136.09 249.80 L136.96 250.25 L137.83 250.70 L138.70 251.15 L139.58 251.59 L140.45 252.04 L141.32 252.49 L142.20 252.93 L143.07 253.38 L143.94 253.82 L144.82 254.27 L145.69 254.71 L146.56 255.15 L147.43 255.60 L148.31 256.04 L149.18 256.48 L150.05 256.92 L150.93 257.35 L151.80 257.79 L152.67 258.23 L153.54 258.67 L154.42 259.10 L155.29 259.54 L156.16 259.97 L157.04 260.40 L157.91 260.83 L158.78 261.27 L159.65 261.70 L160.53 262.13 L161.40 262.55 L162.27 262.98 L163.15 263.41 L164.02 263.83 L164.89 264.26 L165.77 264.68 L166.64 265.10 L167.51 265.52 L168.38 265.94 L169.26 266.36 L170.13 266.78 L171.00 267.20 L171.88 267.62 L172.75 268.03 L173.62 268.44 L174.49 268.86 L175.37 269.27 L176.24 269.68 L177.11 270.09 L177.99 270.49 L178.86 270.90 L179.73 271.30 L180.61 271.71 L181.48 272.11 L182.35 272.51 L183.22 272.91 L184.10 273.31 L184.97 273.70 L185.84 274.10 L186.72 274.49 L187.59 274.89 L188.46 275.28 L189.33 275.67 L190.21 276.05 L191.08 276.44 L191.95 276.82 L192.83 277.21 L193.70 277.59 L194.57 277.97 L195.44 278.35 L196.32 278.72 L197.19 279.10 L198.06 279.47 L198.94 279.84 L199.81 280.21 L200.68 280.58 L201.56 280.94 L202.43 281.31 L203.30 281.67 L204.17 282.03 L205.05 282.38 L205.92 282.74 L206.79 283.09 L207.67 283.45 L208.54 283.80 L209.41 284.14 L210.28 284.49 L211.16 284.83 L212.03 285.17 L212.90 285.51 L213.78 285.85 L214.65 286.18 L215.52 286.51 L216.39 286.84 L217.27 287.17 L218.14 287.50 L219.01 287.82 L219.89 288.14 L220.76 288.46 L221.63 288.77 L222.51 289.09 L223.38 289.40 L224.25 289.70 L225.12 290.01 L226.00 290.31 L226.87 290.61 L227.74 290.91 L228.62 291.20 L229.49 291.49 L230.36 291.78 L231.23 292.07 L232.11 292.35 L232.98 292.63 L233.85 292.91 L234.73 293.18 L235.60 293.45 L236.47 293.72 L237.35 293.99 L238.22 294.25 L239.09 294.51 L239.96 294.76 L240.84 295.02 L241.71 295.27 L242.58 295.51 L243.46 295.76 L244.33 296.00 L245.20 296.23 L246.07 296.46 L246.95 296.69 L247.82 296.92 L248.69 297.14 L249.57 297.36 L250.44 297.58 L251.31 297.79 L252.18 298.00 L253.06 298.21 L253.93 298.41 L254.80 298.61 L255.68 298.80 L256.55 298.99 L257.42 299.18 L258.30 299.36 L259.17 299.54 L260.04 299.72 L260.91 299.89 L261.79 300.06 L262.66 300.22 L263.53 300.38 L264.41 300.54 L265.28 300.69 L266.15 300.84 L267.02 300.98 L267.90 301.12 L268.77 301.26 L269.64 301.39 L270.52 301.52 L271.39 301.65 L272.26 301.77 L273.13 301.88 L274.01 301.99 L274.88 302.10 L275.75 302.20 L276.63 302.30 L277.50 302.40 L278.37 302.49 L279.25 302.57 L280.12 302.66 L280.99 302.73 L281.86 302.81 L282.74 302.88 L283.61 302.94 L284.48 303.00 L285.36 303.06 L286.23 303.11 L287.10 303.15 L287.97 303.20 L288.85 303.23 L289.72 303.27 L290.59 303.30 L291.47 303.32 L292.34 303.34 L293.21 303.36 L294.08 303.37 L294.96 303.38 L295.83 303.38 L296.70 303.38 L297.58 303.37 L298.45 303.36 L299.32 303.34 L300.20 303.32 L301.07 303.30 L301.94 303.27 L302.81 303.23 L303.69 303.19 L304.56 303.15 L305.43 303.10 L306.31 303.05 L307.18 302.99 L308.05 302.93 L308.92 302.87 L309.80 302.80 L310.67 302.72 L311.54 302.64 L312.42 302.56 L313.29 302.47 L314.16 302.38 L315.04 302.28 L315.91 302.18 L316.78 302.07 L317.65 301.96 L318.53 301.85 L319.40 301.73 L320.27 301.60 L321.15 301.47 L322.02 301.34 L322.89 301.20 L323.76 301.06 L324.64 300.92 L325.51 300.77 L326.38 300.61 L327.26 300.45 L328.13 300.29 L329.00 300.12 L329.87 299.95 L330.75 299.77 L331.62 299.59 L332.49 299.41 L333.37 299.22 L334.24 299.02 L335.11 298.83 L335.99 298.63 L336.86 298.42 L337.73 298.21 L338.60 298.00 L339.48 297.78 L340.35 297.56 L341.22 297.33 L342.10 297.10 L342.97 296.86 L343.84 296.63 L344.71 296.38 L345.59 296.14 L346.46 295.89 L347.33 295.63 L348.21 295.37 L349.08 295.11 L349.95 294.85 L350.82 294.58 L351.70 294.30 L352.57 294.02 L353.44 293.74 L354.32 293.46 L355.19 293.17 L356.06 292.88 L356.94 292.58 L357.81 292.28 L358.68 291.97 L359.55 291.67 L360.43 291.36 L361.30 291.04 L362.17 290.72 L363.05 290.40 L363.92 290.07 L364.79 289.75 L365.66 289.41 L366.54 289.08 L367.41 288.74 L368.28 288.39 L369.16 288.05 L370.03 287.70 L370.90 287.34 L371.77 286.98 L372.65 286.62 L373.52 286.26 L374.39 285.89 L375.27 285.52 L376.14 285.15 L377.01 284.77 L377.89 284.39 L378.76 284.01 L379.63 283.62 L380.50 283.23 L381.38 282.83 L382.25 282.44 L383.12 282.03 L384.00 281.63 L384.87 281.22 L385.74 280.81 L386.61 280.40 L387.49 279.98 L388.36 279.56 L389.23 279.14 L390.11 278.71 L390.98 278.29 L391.85 277.85 L392.73 277.42 L393.60 276.98 L394.47 276.54 L395.34 276.09 L396.22 275.64 L397.09 275.19 L397.96 274.74 L398.84 274.28 L399.71 273.82 L400.58 273.36 L401.45 272.89 L402.33 272.42 L403.20 271.95 L404.07 271.47 L404.95 270.99 L405.82 270.51 L406.69 270.02 L407.56 269.53 L408.44 269.04 L409.31 268.55 L410.18 268.05 L411.06 267.55 L411.93 267.04 L412.80 266.54 L413.68 266.03 L414.55 265.51 L415.42 265.00 L416.29 264.48 L417.17 263.96 L418.04 263.43 L418.91 262.90 L419.79 262.37 L420.66 261.83 L421.53 261.29 L422.40 260.75 L423.28 260.21 L424.15 259.66 L425.02 259.11 L425.90 258.56 L426.77 258.00 L427.64 257.44 L428.51 256.87 L429.39 256.31 L430.26 255.74 L431.13 255.16 L432.01 254.59 L432.88 254.01 L433.75 253.42 L434.63 252.83 L435.50 252.24 L436.37 251.65 L437.24 251.05 L438.12 250.45 L438.99 249.85 L439.86 249.24 L440.74 248.63 L441.61 248.02 L442.48 247.40 L443.35 246.78 L444.23 246.16 L445.10 245.53 L445.97 244.90 L446.85 244.26 L447.72 243.63 L448.59 242.98 L449.46 242.34 L450.34 241.69 L451.21 241.04 L452.08 240.38 L452.96 239.72 L453.83 239.06 L454.70 238.39 L455.58 237.72 L456.45 237.04 L457.32 236.37 L458.19 235.68 L459.07 235.00 L459.94 234.31 L460.81 233.61 L461.69 232.92 L462.56 232.21 L463.43 231.51 L464.30 230.80 L465.18 230.09 L466.05 229.37 L466.92 228.65 L467.80 227.92 L468.67 227.20 L469.54 226.46 L470.42 225.73 L471.29 224.99 L472.16 224.24 L473.03 223.49 L473.91 222.74 L474.78 221.98 L475.65 221.22 L476.53 220.45 L477.40 219.68 L478.27 218.91 L479.14 218.13 L480.02 217.35 L480.89 216.56 L481.76 215.77 L482.64 214.98 L483.51 214.18 L484.38 213.37 L485.25 212.57 L486.13 211.75 L487.00 210.94 L487.87 210.12 L488.75 209.29 L489.62 208.46 L490.49 207.63 L491.37 206.79 L492.24 205.94 L493.11 205.10 L493.98 204.24 L494.86 203.39 L495.73 202.53 L496.60 201.66 L497.48 200.79 L498.35 199.92 L499.22 199.04 L500.09 198.16 L500.97 197.27 L501.84 196.38 L502.71 195.48 L503.59 194.58 L504.46 193.67 L505.33 192.76 L506.20 191.85 L507.08 190.93 L507.95 190.00 L508.82 189.07 L509.70 188.14 L510.57 187.20 L511.44 186.26 L512.32 185.32 L513.19 184.36 L514.06 183.41 L514.93 182.45 L515.81 181.48 L516.68 180.51 L517.55 179.54 L518.43 178.56 L519.30 177.58 L520.17 176.59 L521.04 175.60 L521.92 174.60 L522.79 173.60 L523.66 172.60 L524.54 171.59 L525.41 170.58 L526.28 169.56 L527.16 168.53 L528.03 167.51 L528.90 166.48 L529.77 165.44 L530.65 164.40 L531.52 163.35 L532.39 162.30 L533.27 161.25 L534.14 160.19 L535.01 159.13 L535.88 158.07 L536.76 157.00 L537.63 155.92 L538.50 154.84 L539.38 153.76 L540.25 152.67 L541.12 151.58 L541.99 150.48 L542.87 149.38 L543.74 148.28 L544.61 147.17 L545.49 146.06 L546.36 144.95 L547.23 143.83 L548.11 142.70 L548.98 141.57 L549.85 140.44 L550.72 139.31 L551.60 138.17 L552.47 137.03 L553.34 135.88 L554.22 134.73 L555.09 133.57 L555.96 132.41 L556.83 131.25 L557.71 130.09 L558.58 128.92 L559.45 127.74 L560.33 126.57 L561.20 125.39 L562.07 124.20 L562.94 123.02 L563.82 121.83" stroke="#996633" stroke-width="3.95" stroke-dasharray="7.6 7.1 2.0 7.18" stroke-dashoffset="-6.86"/>
</g>
<text transform="translate(41.12,117.70) scale(1,1.0300)" font-size="29.1"><tspan style="fill:none;stroke:none">1</tspan></text>
<path d="M763 0H583V1147Q518 1085 412.5 1023T223 930V1104Q374 1175 487 1276T647 1472H763Z" transform="translate(41.12,117.70) scale(0.014209,-0.014209)" fill="#000" stroke="#000" stroke-width="21.1"/>
<text transform="translate(0.56,155.60) scale(1,1.0300)" font-size="29.1">0.50</text>
<text transform="translate(0.36,242.30) scale(1,1.0300)" font-size="29.1">0.<tspan style="fill:none;stroke:none">1</tspan>0</text>
<path d="M763 0H583V1147Q518 1085 412.5 1023T223 930V1104Q374 1175 487 1276T647 1472H763Z" transform="translate(24.63,242.30) scale(0.014209,-0.014209)" fill="#000" stroke="#000" stroke-width="21.1"/>
<text transform="translate(0.36,280.70) scale(1,1.0300)" font-size="29.1">0.05</text>
<text transform="translate(0.36,368.10) scale(1,1.0300)" font-size="29.1">0.0<tspan style="fill:none;stroke:none">1</tspan></text>
<path d="M763 0H583V1147Q518 1085 412.5 1023T223 930V1104Q374 1175 487 1276T647 1472H763Z" transform="translate(40.82,368.10) scale(0.014209,-0.014209)" fill="#000" stroke="#000" stroke-width="21.1"/>
<text transform="translate(84.20,390.20) scale(1,1.0300)" font-size="29.1">0.05</text>
<text transform="translate(152.08,390.20) scale(1,1.0300)" font-size="29.1">0.<tspan style="fill:none;stroke:none">1</tspan>0</text>
<path d="M763 0H583V1147Q518 1085 412.5 1023T223 930V1104Q374 1175 487 1276T647 1472H763Z" transform="translate(176.35,390.20) scale(0.014209,-0.014209)" fill="#000" stroke="#000" stroke-width="21.1"/>
<text transform="translate(309.70,390.20) scale(1,1.0300)" font-size="29.1">0.50</text>
<text transform="translate(397.81,390.20) scale(1,1.0300)" font-size="29.1"><tspan style="fill:none;stroke:none">1</tspan></text>
<path d="M763 0H583V1147Q518 1085 412.5 1023T223 930V1104Q374 1175 487 1276T647 1472H763Z" transform="translate(397.81,390.20) scale(0.014209,-0.014209)" fill="#000" stroke="#000" stroke-width="21.1"/>
<text transform="translate(556.03,390.20) scale(1,1.0300)" font-size="29.1">5</text>
<text transform="translate(52.39,30.10) scale(1,1.0300)" font-size="29.1">R</text>
<text transform="translate(579.0,368.2) scale(1,1.0300)" font-size="29.1">Ω</text>
<text transform="translate(603.2,368.2) scale(1,1.0300)" font-size="29.1" class="it">τ</text>
<text transform="translate(615.00,368.20) scale(1,1.0300)" font-size="29.1">/2</text>
<text transform="translate(641.5,368.2) scale(1,1.0300)" font-size="29.1" class="it">π</text>
<text transform="translate(771.00,104.90) scale(1,1.0300)" font-size="29.1"><tspan style="fill:none;stroke:none">1</tspan></text>
<path d="M763 0H583V1147Q518 1085 412.5 1023T223 930V1104Q374 1175 487 1276T647 1472H763Z" transform="translate(771.00,104.90) scale(0.014209,-0.014209)" fill="#000" stroke="#000" stroke-width="21.1"/>
<text transform="translate(771.00,155.70) scale(1,1.0300)" font-size="29.1">2</text>
<text transform="translate(771.00,207.10) scale(1,1.0300)" font-size="29.1">3</text>
<text transform="translate(771.00,258.20) scale(1,1.0300)" font-size="29.1">4</text>
<text transform="translate(771.00,309.30) scale(1,1.0300)" font-size="29.1">5</text>
<g fill="none">
<path d="M683 98.5 H756" stroke="#808080" stroke-width="0.75"/>
<path d="M683 149.75 H756" stroke="#0000ff" stroke-width="3.95"/>
<path d="M683 200.8 H756" stroke="#0000ff" stroke-width="3.95" stroke-dasharray="7.35 7.35" stroke-dashoffset="-1.8"/>
<path d="M683 251.4 H756" stroke="#ff0000" stroke-width="3.95" stroke-dasharray="15.8 31.6" stroke-dashoffset="-1.8"/>
<path d="M683 302.2 H756" stroke="#996633" stroke-width="3.95" stroke-dasharray="1.6 7.45 7.45 7.6" stroke-dashoffset="-1.8"/>
</g>
</svg>
</body></html>
